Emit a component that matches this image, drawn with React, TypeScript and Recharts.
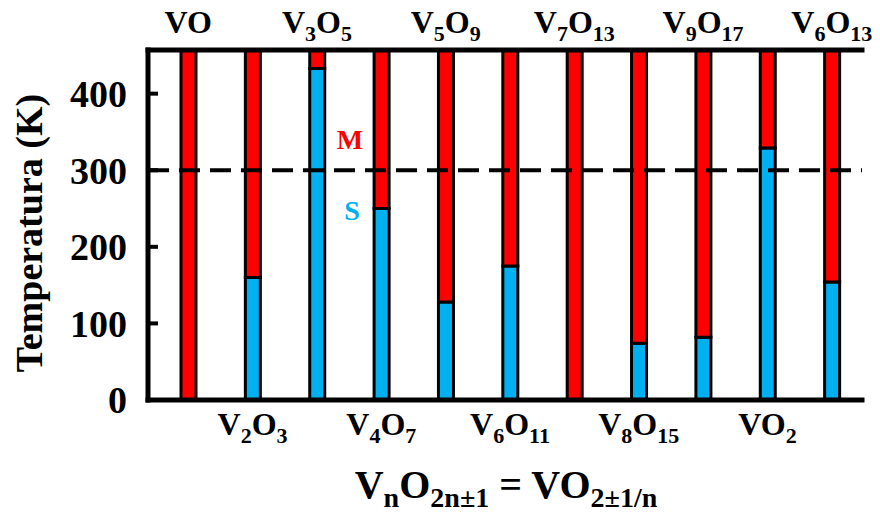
import React from 'react';
import { BarChart, Bar, XAxis, YAxis, ReferenceLine, Label } from 'recharts';

const oxides = ['VO', 'V2O3', 'V3O5', 'V4O7', 'V5O9', 'V6O11', 'V7O13', 'V8O15', 'V9O17', 'VO2', 'V6O13'];
const transitionK = [0, 160, 433, 250, 128, 175, 0, 74, 82, 329, 154];
const yTicks = [0, 100, 200, 300, 400];
const Y_MAX = 457;
const ROOM_T = 300;
const yTitle = 'Temperatura (K)';
const titleParts: [string, boolean][] = [
  ['V', false], ['n', true], ['O', false], ['2n\u00b11', true], [' = VO', false], ['2\u00b11/n', true],
];

const data = oxides.map((name, i) => ({ name, semi: transitionK[i], metal: Y_MAX - transitionK[i] }));

const FONT = '"Liberation Serif","Times New Roman",serif';
const RED = '#FF0000';
const BLUE = '#00B0F0';

function tokens(s: string): [string, boolean][] {
  const out: [string, boolean][] = [];
  let cur = '';
  let sub = false;
  for (const ch of s) {
    const isSub = /[0-9]/.test(ch);
    if (cur && isSub !== sub) {
      out.push([cur, sub]);
      cur = '';
    }
    sub = isSub;
    cur += ch;
  }
  if (cur) out.push([cur, sub]);
  return out;
}

function Formula({ x, y, parts, size, subSize, shift }: any) {
  let prevSub = false;
  return (
    <text x={x} y={y} textAnchor="middle" fontFamily={FONT} fontWeight="bold" fontSize={size} fill="#000">
      {parts.map(([t, sub]: [string, boolean], i: number) => {
        const dy = sub === prevSub ? 0 : sub ? shift : -shift;
        prevSub = sub;
        return (
          <tspan key={i} fontSize={sub ? subSize : size} dy={dy}>
            {t}
          </tspan>
        );
      })}
    </text>
  );
}

const BottomTick = (props: any) => {
  const idx = props.index ?? props.payload?.index;
  if (idx % 2 !== 1) return <g />;
  return <Formula x={props.x} y={435} parts={tokens(props.payload.value)} size={32} subSize={22} shift={8} />;
};

const TopTick = (props: any) => {
  const idx = props.index ?? props.payload?.index;
  if (idx % 2 !== 0) return <g />;
  return <Formula x={props.x} y={33} parts={tokens(props.payload.value)} size={32} subSize={22} shift={8} />;
};

const Overlay = () => (
  <g fontFamily={FONT} fontWeight="bold">
    <text
      x={29}
      y={233}
      transform="rotate(-90 29 233)"
      textAnchor="middle"
      dominantBaseline="central"
      fontSize={38}
      fill="#000"
    >
      {yTitle}
    </text>
    <text x={350} y={149} textAnchor="middle" fontSize={28} fill={RED}>M</text>
    <text x={352} y={220} textAnchor="middle" fontSize={28} fill={BLUE}>S</text>
    <Formula x={506} y={498} parts={titleParts} size={40} subSize={28} shift={9} />
  </g>
);

const axisLine = { stroke: '#000', strokeWidth: 5, strokeLinecap: 'square' as const };

export default function App() {
  return (
    <div style={{ position: 'absolute', left: 0, top: 0, background: '#fff' }}>
      <BarChart
        width={880}
        height={516}
        data={data}
        margin={{ top: 10, right: 18, bottom: 56, left: 88 }}
        barCategoryGap={0}
      >
        <XAxis
          dataKey="name"
          height={60}
          interval={0}
          padding={{ left: 8, right: -2 }}
          axisLine={axisLine}
          tickLine={false}
          tick={<BottomTick />}
        />
        <XAxis
          xAxisId="top"
          orientation="top"
          dataKey="name"
          height={40}
          interval={0}
          padding={{ left: 8, right: -2 }}
          axisLine={axisLine}
          tickLine={false}
          tick={<TopTick />}
        />
        <YAxis
          width={60}
          domain={[0, Y_MAX]}
          ticks={yTicks}
          allowDataOverflow
          interval={0}
          axisLine={axisLine}
          tickSize={-10}
          tickMargin={31}
          tickLine={{ stroke: '#000', strokeWidth: 4 }}
          tick={{ fill: '#000', fontSize: 38, fontFamily: FONT, fontWeight: 'bold' }}
        >
          <Label content={() => <Overlay />} />
        </YAxis>
        <YAxis
          yAxisId="r"
          orientation="right"
          width={0}
          domain={[0, Y_MAX]}
          axisLine={axisLine}
          tick={false}
          tickLine={false}
        />
        <Bar dataKey="semi" stackId="a" fill={BLUE} stroke="#000" strokeWidth={3} barSize={15} isAnimationActive={false} />
        <Bar dataKey="metal" stackId="a" fill={RED} stroke="#000" strokeWidth={3} barSize={15} isAnimationActive={false} />
        <ReferenceLine y={ROOM_T} stroke="#000" strokeWidth={4} strokeDasharray="21 10" />
      </BarChart>
    </div>
  );
}
